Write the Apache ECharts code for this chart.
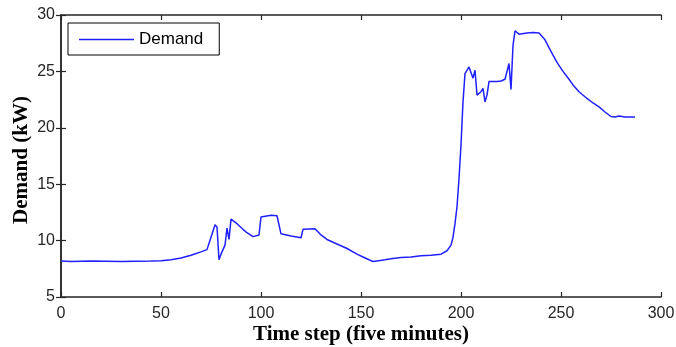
<!DOCTYPE html>
<html>
<head>
<meta charset="utf-8">
<script src="https://cdn.jsdelivr.net/npm/echarts@6/dist/echarts.min.js"></script>
<style>
  html, body { margin: 0; padding: 0; background: #fff; }
  #chart { width: 676px; height: 347px; }
</style>
</head>
<body>
<div id="chart"></div>
<script>
// time step (x) and demand in kW (y)
const timeSteps = [0, 5, 15, 16, 30, 31, 45, 50, 55, 60, 65, 70, 73, 75, 77, 78, 79, 80, 82, 83, 84, 85,
  88, 91, 93, 96, 99, 100, 101, 105, 108, 110, 115, 120, 121, 122, 127, 130, 133, 138, 143, 148,
  151, 154, 156, 158, 162, 165, 170, 175, 180, 185, 190, 193, 195, 196, 197, 198, 199, 200, 201,
  202, 204, 206, 207, 208, 210, 211, 212, 213, 214, 218, 220, 222, 223, 224, 225, 226, 227, 229,
  233, 236, 237, 239, 242, 244, 246, 248, 251, 254, 256, 259, 263, 266, 269, 272, 275, 277, 279,
  282, 287];
const demand = [8.2, 8.15, 8.2, 8.15, 8.15, 8.2, 8.2, 8.22, 8.3, 8.45, 8.7, 9.0, 9.2, 10.3, 11.4, 11.2,
  8.3, 8.8, 9.6, 11.1, 10.1, 11.9, 11.5, 11.0, 10.7, 10.35, 10.5, 12.1, 12.2, 12.25, 12.2, 10.6,
  10.4, 10.25, 11.0, 11.1, 11.05, 10.5, 10.1, 9.7, 9.3, 8.8, 8.55, 8.3, 8.15, 8.2, 8.3, 8.4, 8.5,
  8.55, 8.65, 8.7, 8.8, 9.1, 9.6, 10.3, 11.5, 13.0, 15.5, 18.5, 22.3, 24.8, 25.4, 24.4, 25.1,
  22.9, 23.2, 23.5, 22.3, 22.9, 24.1, 24.1, 24.15, 24.3, 25.0, 25.7, 23.4, 27.3, 28.6, 28.3,
  28.4, 28.45, 28.55, 28.4, 27.8, 27.1, 26.45, 25.8, 25.0, 24.3, 23.8, 23.2, 22.6, 22.2, 21.85,
  21.4, 21.0, 20.95, 21.05, 20.95, 20.95];

const xTicks = { min: 0, max: 300, interval: 50 };
const yTicks = { min: 5, max: 30, interval: 5 };

const axisColor = '#262626';
const labelFont = { fontFamily: 'Liberation Sans, Arial', fontSize: 16, color: '#262626' };
const nameFont = { fontFamily: 'Liberation Serif, Times New Roman', fontSize: 21, fontWeight: 'bold', color: '#000' };

const chart = echarts.init(document.getElementById('chart'));

const boxAxis = {
  axisLine: { show: true, lineStyle: { color: axisColor, width: 1.5 } },
  axisTick: { show: true, inside: true, length: 5, lineStyle: { color: axisColor, width: 1.2 } },
  splitLine: { show: false }
};

chart.setOption({
  animation: false,
  backgroundColor: '#fff',
  grid: { left: 61, right: 15, top: 15, bottom: 50, outerBoundsMode: 'none' },
  legend: {
    left: 68,
    top: 23,
    orient: 'vertical',
    backgroundColor: '#fff',
    borderColor: '#000',
    borderWidth: 1,
    borderRadius: 0,
    padding: [8, 16, 7, 11],
    icon: 'rect',
    itemWidth: 55,
    itemHeight: 1.5,
    itemGap: 0,
    textStyle: { fontFamily: 'Liberation Sans, Arial', fontSize: 17, color: '#000' },
    data: ['Demand']
  },
  xAxis: [
    Object.assign({
      type: 'value',
      min: xTicks.min, max: xTicks.max, interval: xTicks.interval,
      name: 'Time step (five minutes)',
      nameLocation: 'middle',
      nameMoveOverlap: false,
      nameGap: 27,
      nameTextStyle: nameFont,
      axisLabel: Object.assign({ margin: 9 }, labelFont)
    }, boxAxis),
    Object.assign({
      type: 'value', position: 'top',
      min: xTicks.min, max: xTicks.max, interval: xTicks.interval,
      axisLabel: { show: false }
    }, boxAxis)
  ],
  yAxis: [
    Object.assign({
      type: 'value',
      min: yTicks.min, max: yTicks.max, interval: yTicks.interval,
      name: 'Demand (kW)',
      nameLocation: 'middle',
      nameMoveOverlap: false,
      nameGap: 29,
      nameTextStyle: Object.assign({ padding: [0, 8, 0, 0] }, nameFont),
      axisLabel: Object.assign({ margin: 6 }, labelFont)
    }, boxAxis),
    Object.assign({
      type: 'value', position: 'right',
      min: yTicks.min, max: yTicks.max, interval: yTicks.interval,
      axisLabel: { show: false }
    }, boxAxis)
  ],
  series: [{
    name: 'Demand',
    type: 'line',
    symbol: 'none',
    data: timeSteps.map((t, i) => [t, demand[i]]),
    lineStyle: { color: '#2020ff', width: 1.5 },
    itemStyle: { color: '#2020ff' }
  }]
});
</script>
</body>
</html>
